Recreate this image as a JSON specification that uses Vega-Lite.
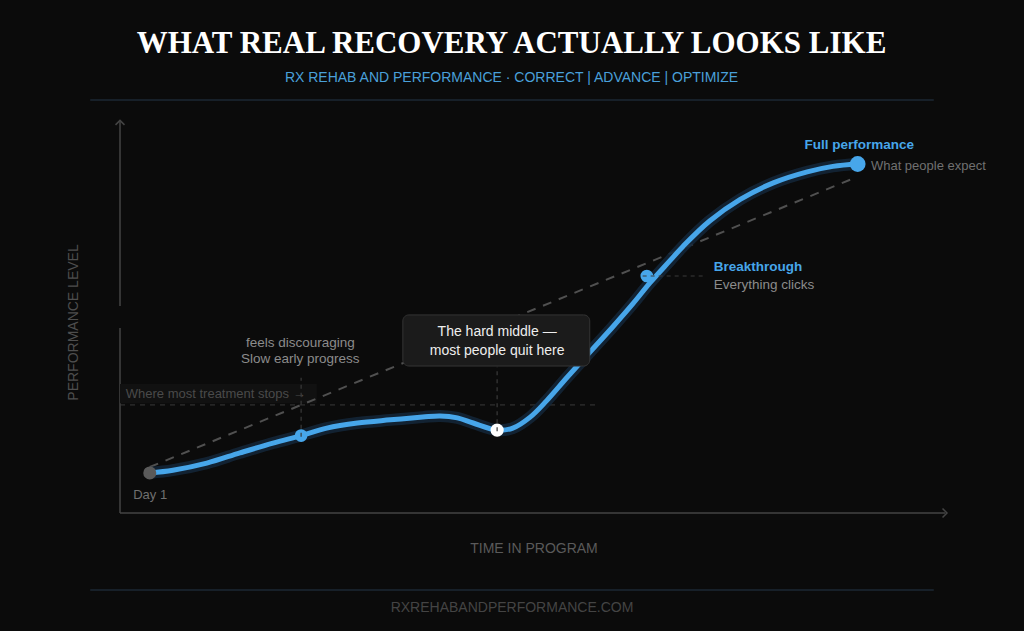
{
  "$schema": "https://vega.github.io/schema/vega-lite/v6.json",
  "autosize": {"type": "none"},
  "width": 827,
  "height": 393,
  "padding": {"left": 120, "top": 120, "right": 77, "bottom": 118},
  "background": "#0b0b0b",
  "config": {"view": {"stroke": null}, "font": "Liberation Sans"},
  "data": {"values": [{}]},
  "title": {
    "text": "WHAT REAL RECOVERY ACTUALLY LOOKS LIKE",
    "subtitle": "RX REHAB AND PERFORMANCE · CORRECT | ADVANCE | OPTIMIZE",
    "font": "Liberation Serif",
    "fontSize": 31,
    "fontWeight": "bold",
    "color": "#ffffff",
    "subtitleFont": "Liberation Sans",
    "subtitleFontSize": 14,
    "subtitleColor": "#4aa0da",
    "subtitlePadding": 11,
    "anchor": "middle",
    "dx": -22,
    "offset": 13
  },
  "datasets": {
    "progress": [
      {"t": 3.6, "level": 10.2},
      {"t": 6.4, "level": 10.9},
      {"t": 10.5, "level": 12.7},
      {"t": 14.5, "level": 15.3},
      {"t": 18.5, "level": 17.8},
      {"t": 21.9, "level": 19.7},
      {"t": 25.0, "level": 21.6},
      {"t": 28.7, "level": 22.9},
      {"t": 32.7, "level": 23.7},
      {"t": 36.6, "level": 24.4},
      {"t": 38.7, "level": 24.7},
      {"t": 40.8, "level": 24.2},
      {"t": 42.7, "level": 22.9},
      {"t": 45.6, "level": 21.1},
      {"t": 47.5, "level": 21.6},
      {"t": 49.6, "level": 24.4},
      {"t": 51.6, "level": 28.6},
      {"t": 54.1, "level": 34.6},
      {"t": 56.8, "level": 40.9},
      {"t": 59.6, "level": 47.4},
      {"t": 62.0, "level": 53.2},
      {"t": 64.1, "level": 58.6},
      {"t": 66.5, "level": 64.2},
      {"t": 68.1, "level": 67.9},
      {"t": 71.3, "level": 74.3},
      {"t": 75.0, "level": 79.8},
      {"t": 79.0, "level": 84.0},
      {"t": 83.1, "level": 86.8},
      {"t": 86.2, "level": 88.2},
      {"t": 89.2, "level": 88.8}
    ],
    "expected": [
      {"t": 3.6, "level": 11.7},
      {"t": 89.1, "level": 85.5}
    ],
    "milestones": [
      {"stage": "Day 1", "t": 3.6, "level": 10.2},
      {"stage": "Slow early progress", "t": 21.9, "level": 19.7},
      {"stage": "The hard middle", "t": 45.6, "level": 21.1},
      {"stage": "Breakthrough", "t": 63.7, "level": 60.3},
      {"stage": "Full performance", "t": 89.2, "level": 88.8}
    ]
  },
  "layer": [
    {
      "description": "Header and footer separators",
      "mark": {"type": "rule", "stroke": "#1d2935", "strokeWidth": 1.5},
      "encoding": {
        "x": {"datum": -3.6, "type": "quantitative", "scale": {"domain": [0, 100], "nice": false, "zero": false},
              "axis": {"title": "TIME IN PROGRAM", "domain": false, "ticks": false, "labels": false, "grid": false,
                       "titleColor": "#5a5a5a", "titleFont": "Liberation Sans", "titleFontSize": 14, "titleFontWeight": "normal",
                       "titleY": 35, "titleBaseline": "middle"}},
        "x2": {"datum": 98.4},
        "y": {"datum": 105.1, "type": "quantitative", "scale": {"domain": [0, 100], "nice": false, "zero": false},
              "axis": {"title": "PERFORMANCE LEVEL", "domain": false, "ticks": false, "labels": false, "grid": false,
                       "titleColor": "#4e4e4e", "titleFont": "Liberation Sans", "titleFontSize": 14, "titleFontWeight": "normal",
                       "titleX": -47, "titleY": 202, "titleAngle": -90, "titleBaseline": "middle"}}
      }
    },
    {
      "mark": {"type": "rule", "stroke": "#1d2935", "strokeWidth": 1.5},
      "encoding": {
        "x": {"datum": -3.6, "type": "quantitative"},
        "x2": {"datum": 98.4},
        "y": {"datum": -19.6, "type": "quantitative"}
      }
    },
    {
      "description": "Axis lines with arrowheads",
      "mark": {"type": "rule", "stroke": "#444444", "strokeWidth": 1.5},
      "encoding": {
        "x": {"datum": 0, "type": "quantitative"},
        "x2": {"datum": 99.8},
        "y": {"datum": 0, "type": "quantitative"}
      }
    },
    {
      "mark": {"type": "rule", "stroke": "#444444", "strokeWidth": 1.5},
      "encoding": {
        "x": {"datum": 0, "type": "quantitative"},
        "y": {"datum": 0, "type": "quantitative"},
        "y2": {"datum": 47.1}
      }
    },
    {
      "mark": {"type": "rule", "stroke": "#444444", "strokeWidth": 1.5},
      "encoding": {
        "x": {"datum": 0, "type": "quantitative"},
        "y": {"datum": 52.7, "type": "quantitative"},
        "y2": {"datum": 99.7}
      }
    },
    {
      "mark": {"type": "point", "shape": "M-1,-1L0,0L-1,1", "filled": false, "stroke": "#444444", "strokeWidth": 1.5, "size": 80, "opacity": 1},
      "encoding": {
        "x": {"datum": 100, "type": "quantitative"},
        "y": {"datum": 0, "type": "quantitative"}
      }
    },
    {
      "mark": {"type": "point", "shape": "M-1,1L0,0L1,1", "filled": false, "stroke": "#444444", "strokeWidth": 1.5, "size": 80, "opacity": 1},
      "encoding": {
        "x": {"datum": 0, "type": "quantitative"},
        "y": {"datum": 99.9, "type": "quantitative"}
      }
    },
    {
      "description": "Treatment cut-off line and label",
      "mark": {"type": "rect", "fill": "#111111"},
      "encoding": {
        "x": {"datum": 0, "type": "quantitative"},
        "x2": {"datum": 23.8},
        "y": {"datum": 27.9, "type": "quantitative"},
        "y2": {"datum": 32.8}
      }
    },
    {
      "mark": {"type": "rule", "stroke": "#3a3a3a", "strokeWidth": 1, "strokeDash": [5, 5]},
      "encoding": {
        "x": {"datum": 0, "type": "quantitative"},
        "x2": {"datum": 57.8},
        "y": {"datum": 27.5, "type": "quantitative"}
      }
    },
    {
      "mark": {"type": "text", "text": "Where most treatment stops →", "align": "left", "baseline": "middle", "fontSize": 13, "color": "#4a4a4a"},
      "encoding": {
        "x": {"datum": 0.7, "type": "quantitative"},
        "y": {"datum": 30.3, "type": "quantitative"}
      }
    },
    {
      "description": "What people expect: a straight line",
      "data": {"name": "expected"},
      "mark": {"type": "line", "stroke": "#505050", "strokeWidth": 2, "strokeDash": [9, 8]},
      "encoding": {
        "x": {"field": "t", "type": "quantitative"},
        "y": {"field": "level", "type": "quantitative"}
      }
    },
    {
      "description": "Real recovery curve with a dark halo",
      "data": {"name": "progress"},
      "mark": {"type": "line", "interpolate": "catmull-rom", "stroke": "#142739", "strokeWidth": 12, "strokeOpacity": 0.85},
      "encoding": {
        "x": {"field": "t", "type": "quantitative"},
        "y": {"field": "level", "type": "quantitative"}
      }
    },
    {
      "data": {"name": "progress"},
      "mark": {"type": "line", "interpolate": "catmull-rom", "stroke": "#47a6ea", "strokeWidth": 5, "strokeCap": "round"},
      "encoding": {
        "x": {"field": "t", "type": "quantitative"},
        "y": {"field": "level", "type": "quantitative"}
      }
    },
    {
      "description": "Milestone markers",
      "data": {"name": "milestones"},
      "transform": [{"filter": "datum.stage === 'Day 1'"}],
      "mark": {"type": "circle", "opacity": 1, "fill": "#5a5a5a", "size": 170},
      "encoding": {
        "x": {"field": "t", "type": "quantitative"},
        "y": {"field": "level", "type": "quantitative"}
      }
    },
    {
      "data": {"name": "milestones"},
      "transform": [{"filter": "datum.stage === 'Slow early progress' || datum.stage === 'Breakthrough'"}],
      "mark": {"type": "circle", "opacity": 1, "fill": "#47a6ea", "size": 160},
      "encoding": {
        "x": {"field": "t", "type": "quantitative"},
        "y": {"field": "level", "type": "quantitative"}
      }
    },
    {
      "data": {"name": "milestones"},
      "transform": [{"filter": "datum.stage === 'The hard middle'"}],
      "mark": {"type": "circle", "opacity": 1, "fill": "#ffffff", "size": 175},
      "encoding": {
        "x": {"field": "t", "type": "quantitative"},
        "y": {"field": "level", "type": "quantitative"}
      }
    },
    {
      "data": {"name": "milestones"},
      "transform": [{"filter": "datum.stage === 'Full performance'"}],
      "mark": {"type": "circle", "opacity": 1, "fill": "#47a6ea", "size": 250},
      "encoding": {
        "x": {"field": "t", "type": "quantitative"},
        "y": {"field": "level", "type": "quantitative"}
      }
    },
    {
      "description": "Guides from milestones to their notes",
      "mark": {"type": "rule", "stroke": "#3a3a3a", "strokeWidth": 1.2, "strokeDash": [4, 4]},
      "encoding": {
        "x": {"datum": 21.9, "type": "quantitative"},
        "y": {"datum": 19.4, "type": "quantitative"},
        "y2": {"datum": 34.4}
      }
    },
    {
      "mark": {"type": "rule", "stroke": "#3a3a3a", "strokeWidth": 1.2, "strokeDash": [4, 4]},
      "encoding": {
        "x": {"datum": 45.6, "type": "quantitative"},
        "y": {"datum": 20.8, "type": "quantitative"},
        "y2": {"datum": 37.2}
      }
    },
    {
      "mark": {"type": "rule", "stroke": "#3a3a3a", "strokeWidth": 1.2, "strokeDash": [4, 4]},
      "encoding": {
        "x": {"datum": 63.2, "type": "quantitative"},
        "x2": {"datum": 70.7},
        "y": {"datum": 60.3, "type": "quantitative"}
      }
    },
    {
      "description": "Notes",
      "mark": {"type": "text", "text": "feels discouraging", "align": "center", "baseline": "middle", "fontSize": 13.5, "color": "#8c8c8c"},
      "encoding": {
        "x": {"datum": 21.8, "type": "quantitative"},
        "y": {"datum": 43.2, "type": "quantitative"}
      }
    },
    {
      "mark": {"type": "text", "text": "Slow early progress", "align": "center", "baseline": "middle", "fontSize": 13.5, "color": "#8c8c8c"},
      "encoding": {
        "x": {"datum": 21.8, "type": "quantitative"},
        "y": {"datum": 39.2, "type": "quantitative"}
      }
    },
    {
      "mark": {"type": "rect", "fill": "#1b1b1b", "stroke": "#343434", "strokeWidth": 1, "cornerRadius": 6},
      "encoding": {
        "x": {"datum": 34.2, "type": "quantitative"},
        "x2": {"datum": 56.8},
        "y": {"datum": 37.4, "type": "quantitative"},
        "y2": {"datum": 50.4}
      }
    },
    {
      "mark": {"type": "text", "text": "The hard middle —", "align": "center", "baseline": "middle", "fontSize": 14, "color": "#eeeeee"},
      "encoding": {
        "x": {"datum": 45.6, "type": "quantitative"},
        "y": {"datum": 46.1, "type": "quantitative"}
      }
    },
    {
      "mark": {"type": "text", "text": "most people quit here", "align": "center", "baseline": "middle", "fontSize": 14, "color": "#eeeeee"},
      "encoding": {
        "x": {"datum": 45.6, "type": "quantitative"},
        "y": {"datum": 41.3, "type": "quantitative"}
      }
    },
    {
      "mark": {"type": "text", "text": "Breakthrough", "align": "left", "baseline": "middle", "fontSize": 13.5, "fontWeight": "bold", "color": "#47a6ea"},
      "encoding": {
        "x": {"datum": 71.8, "type": "quantitative"},
        "y": {"datum": 62.6, "type": "quantitative"}
      }
    },
    {
      "mark": {"type": "text", "text": "Everything clicks", "align": "left", "baseline": "middle", "fontSize": 13.5, "color": "#8c8c8c"},
      "encoding": {
        "x": {"datum": 71.8, "type": "quantitative"},
        "y": {"datum": 58.0, "type": "quantitative"}
      }
    },
    {
      "mark": {"type": "text", "text": "Full performance", "align": "center", "baseline": "middle", "fontSize": 13.5, "fontWeight": "bold", "color": "#47a6ea"},
      "encoding": {
        "x": {"datum": 89.4, "type": "quantitative"},
        "y": {"datum": 93.6, "type": "quantitative"}
      }
    },
    {
      "mark": {"type": "text", "text": "What people expect", "align": "left", "baseline": "middle", "fontSize": 13, "color": "#707070"},
      "encoding": {
        "x": {"datum": 90.8, "type": "quantitative"},
        "y": {"datum": 88.3, "type": "quantitative"}
      }
    },
    {
      "mark": {"type": "text", "text": "Day 1", "align": "left", "baseline": "middle", "fontSize": 13, "color": "#707070"},
      "encoding": {
        "x": {"datum": 1.6, "type": "quantitative"},
        "y": {"datum": 4.6, "type": "quantitative"}
      }
    },
    {
      "description": "Footer",
      "mark": {"type": "text", "text": "RXREHABANDPERFORMANCE.COM", "align": "center", "baseline": "middle", "fontSize": 14, "color": "#444444"},
      "encoding": {
        "x": {"datum": 47.4, "type": "quantitative"},
        "y": {"datum": -24.2, "type": "quantitative"}
      }
    }
  ]
}
